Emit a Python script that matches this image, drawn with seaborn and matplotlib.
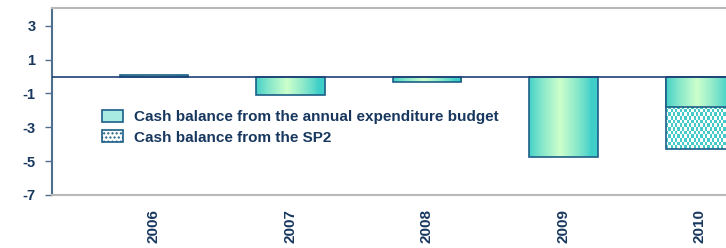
import numpy as np
import pandas as pd
import matplotlib
matplotlib.use("Agg")
import matplotlib.pyplot as plt
import seaborn as sns
from matplotlib.patches import Patch

# values (bn)
years = ["2006", "2007", "2008", "2009", "2010"]
budget = [0.1, -1.1, -0.3, -4.75, -1.8]
sp2_years = ["2010"]
sp2 = [-4.3]
y_ticks = [-7, -5, -3, -1, 1, 3]

navy = "#17375E"
teal = "#3fcfc9"
pale = "#ccffcc"
edge = "#1d5f86"

sns.set_theme(style="white")
plt.rcParams["font.family"] = ["Liberation Sans", "DejaVu Sans"]
plt.rcParams["font.weight"] = "bold"
plt.rcParams["hatch.color"] = "#45c9c9"

fig = plt.figure(figsize=(7.26, 2.48), dpi=100)
ax = fig.add_axes([52 / 726, 53 / 248, 674 / 726, 187 / 248])

df_sp2 = pd.DataFrame({"year": sp2_years, "value": sp2})
df_bud = pd.DataFrame({"year": years, "value": budget})

sns.barplot(data=df_sp2, x="year", y="value", order=years, width=0.5,
            facecolor="none", edgecolor=edge, linewidth=1.2, ax=ax, zorder=3)
n_sp2 = len(ax.patches)
sns.barplot(data=df_bud, x="year", y="value", order=years, width=0.5,
            facecolor="none", edgecolor=edge, linewidth=1.2, ax=ax, zorder=5)

# horizontal gradient teal -> pale green -> teal
t = np.linspace(0, 1, 200)
w = np.clip(1 - np.abs(t - 0.45) / 0.45, 0, 1) ** 0.8
c0 = np.array(matplotlib.colors.to_rgb(teal))
c1 = np.array(matplotlib.colors.to_rgb(pale))
grad = (c0[None, :] * (1 - w[:, None]) + c1[None, :] * w[:, None])[None, :, :]

# checker pattern for the SP2 bar
chk = (np.indices((20, 30)).sum(axis=0) % 2).astype(float)
c2 = np.array(matplotlib.colors.to_rgb("#45c9c9"))
chk_img = np.where(chk[..., None] > 0, c2[None, None, :], np.ones(3)[None, None, :])

for i, p in enumerate(ax.patches):
    if p.get_height() == 0 or np.isnan(p.get_height()):
        continue
    x0, y0 = p.get_x(), p.get_y()
    x1, y1 = x0 + p.get_width(), y0 + p.get_height()
    if i < n_sp2:
        im = ax.imshow(chk_img, extent=[x0, x1, min(y0, y1), max(y0, y1)],
                       aspect="auto", interpolation="nearest", zorder=2)
    else:
        im = ax.imshow(grad, extent=[x0, x1, min(y0, y1), max(y0, y1)],
                       aspect="auto", interpolation="bilinear", zorder=4)
    im.set_clip_path(p)

ax.axhline(0, color="#1f3f75", lw=1.2, zorder=6)

ax.set_xlim(-0.747, -0.747 + 674 / 136.5)
ax.set_ylim(-7, 4.05)
ax.set_yticks(y_ticks)
ax.set_yticklabels([str(v) for v in y_ticks])
ax.set_xlabel("")
ax.set_ylabel("")
ax.tick_params(axis="y", left=True, length=5, width=1, color="#4f6f8f",
               labelsize=10.5, labelcolor=navy, pad=7)
ax.tick_params(axis="x", bottom=False, length=0, labelsize=11,
               labelcolor=navy, pad=10, labelrotation=90)
for lab in ax.get_xticklabels() + ax.get_yticklabels():
    lab.set_fontweight("bold")

ax.spines["right"].set_visible(False)
ax.spines["left"].set_color("#4f6f8f")
ax.spines["left"].set_linewidth(1.5)
for s in ["top", "bottom"]:
    ax.spines[s].set_color("#b8b8b8")
    ax.spines[s].set_linewidth(1.5)

handles = [
    Patch(facecolor="#a8ebe2", edgecolor=edge, linewidth=1.2),
    Patch(facecolor="white", edgecolor=edge, hatch="....", linewidth=1.2),
]
leg = ax.legend(handles, ["Cash balance from the annual expenditure budget",
                          "Cash balance from the SP2"],
                loc="upper left", bbox_to_anchor=(0.074, 0.455), frameon=False,
                prop={"size": 11, "weight": "bold"}, handlelength=1.4,
                handleheight=0.8, handletextpad=0.7, labelspacing=0.42,
                borderpad=0, borderaxespad=0)
for txt in leg.get_texts():
    txt.set_color(navy)

fig.savefig("out.png", dpi=100)
